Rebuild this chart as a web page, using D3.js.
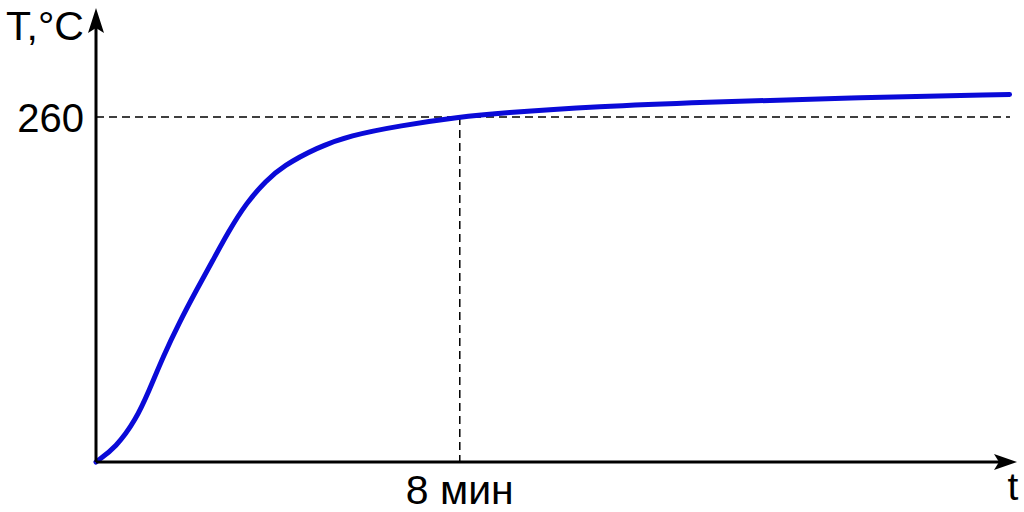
<!DOCTYPE html>
<html>
<head>
<meta charset="utf-8">
<script src="https://cdn.jsdelivr.net/npm/d3@7"></script>
<style>
  html, body { margin: 0; padding: 0; background: #fff; }
  svg text { font-family: "Liberation Sans", Arial, sans-serif; fill: #000; }
</style>
</head>
<body>
<svg id="chart" width="1024" height="512"></svg>
<script>
// heating curve, time in minutes, temperature in °C
const times = [0, 0.44, 0.88, 1.17, 1.47, 1.83, 2.2, 2.57, 2.92, 3.3, 3.74, 4.11, 4.86, 5.58, 6.68, 8, 8.88, 11.08, 13.27, 16.57, 20.09];
const temps = [0, 11, 32, 54, 79, 105, 129, 152, 174, 195, 212, 223, 237, 246, 253.5, 260, 263, 268, 271, 274.5, 277];
const markTime = 8;
const markTemp = 260;
const yLabel = "T,°C";
const xLabel = "t";
const timeLabel = "8 мин";

const points = times.map((t, i) => ({ t, T: temps[i] }));

const svg = d3.select('#chart');

const x = d3.scaleLinear().domain([0, 20.1]).range([96, 1010]);
const y = d3.scaleLinear().domain([0, markTemp]).range([462, 117]);

// dashed guide lines
svg.append('line')
  .attr('x1', x(0)).attr('x2', 1010)
  .attr('y1', y(markTemp)).attr('y2', y(markTemp))
  .style('stroke', '#000').style('stroke-width', 1.5)
  .style('stroke-dasharray', '8,5');

svg.append('line')
  .attr('x1', x(markTime)).attr('x2', x(markTime))
  .attr('y1', y(markTemp)).attr('y2', y(0))
  .style('stroke', '#000').style('stroke-width', 1.5)
  .style('stroke-dasharray', '8,5');

// curve
const line = d3.line()
  .x(d => x(d.t))
  .y(d => y(d.T))
  .curve(d3.curveBasis);

svg.append('path')
  .datum(points)
  .attr('d', line)
  .style('fill', 'none')
  .style('stroke', '#0a0ad8')
  .style('stroke-width', 5)
  .style('stroke-linecap', 'round');

// axes
const ox = x(0), oy = y(0);
svg.append('line')
  .attr('x1', ox).attr('y1', oy).attr('x2', ox).attr('y2', 22)
  .style('stroke', '#000').style('stroke-width', 3);
svg.append('line')
  .attr('x1', ox).attr('y1', oy).attr('x2', 1002).attr('y2', oy)
  .style('stroke', '#000').style('stroke-width', 3);

// arrow heads
svg.append('path')
  .attr('d', `M${ox},8 L${ox + 8},33 L${ox},28 L${ox - 8},33 Z`)
  .style('fill', '#000');
svg.append('path')
  .attr('d', `M1017,${oy} L994,${oy - 8} L999,${oy} L994,${oy + 8} Z`)
  .style('fill', '#000');

// labels
svg.append('text')
  .attr('x', 6).attr('y', 40)
  .style('font-size', '41px')
  .text(yLabel);

svg.append('text')
  .attr('x', ox - 12).attr('y', y(markTemp) + 15)
  .attr('text-anchor', 'end')
  .style('font-size', '40px')
  .text(markTemp);

svg.append('text')
  .attr('x', x(markTime)).attr('y', 504)
  .attr('text-anchor', 'middle')
  .style('font-size', '41px')
  .text(timeLabel);

svg.append('text')
  .attr('x', 1013).attr('y', 500)
  .attr('text-anchor', 'middle')
  .style('font-size', '39px')
  .text(xLabel);
</script>
</body>
</html>
